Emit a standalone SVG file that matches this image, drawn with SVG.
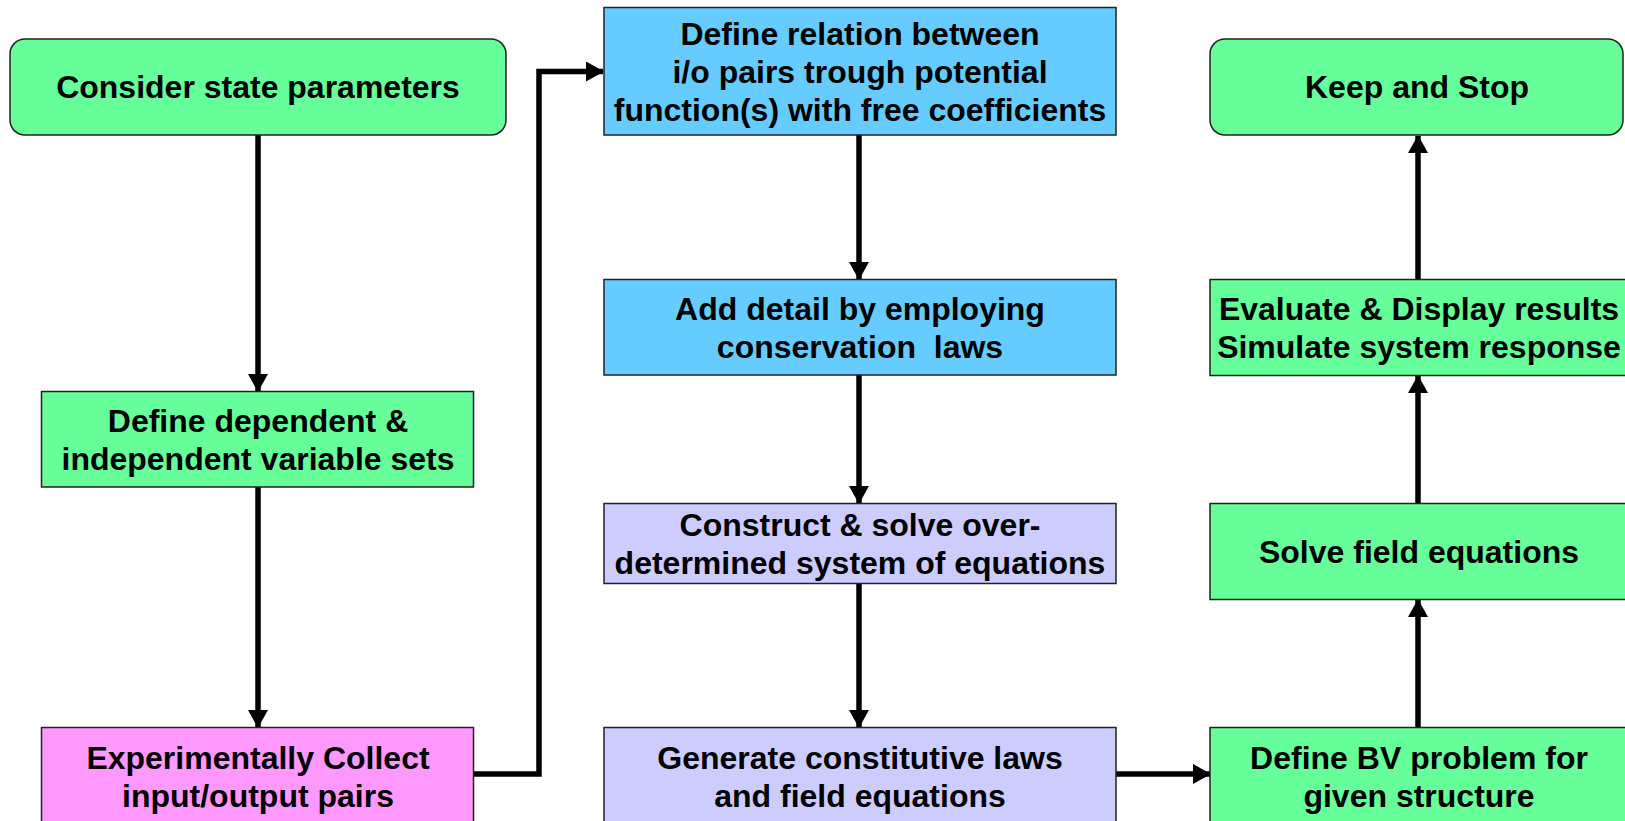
<svg xmlns="http://www.w3.org/2000/svg" width="1625" height="821" viewBox="0 0 1625 821">
  <style>
    .box { stroke: #222; stroke-width: 1.5; }
    .green { fill: #66FF99; }
    .blue { fill: #66CCFF; }
    .lav { fill: #CCCCFF; }
    .pink { fill: #FF99FF; }
    text { font-family: "Liberation Sans", Arial, sans-serif; font-weight: bold; font-size: 32px; fill: #000; text-anchor: middle; white-space: pre; }
    .wire { fill: none; stroke: #000; stroke-width: 5.5; }
  </style>
  <defs>
    <marker id="arrow" markerUnits="userSpaceOnUse" markerWidth="18" markerHeight="20" refX="17" refY="10" orient="auto">
      <path d="M0,0 L18,10 L0,20 z" fill="#000"/>
    </marker>
  </defs>

  <rect width="1625" height="821" fill="#fff"/>

  <!-- connectors -->
  <g id="connectors">
    <line class="wire" x1="258" y1="135" x2="258" y2="391" marker-end="url(#arrow)"/>
    <line class="wire" x1="258" y1="487" x2="258" y2="727" marker-end="url(#arrow)"/>
    <polyline class="wire" points="474,774 539,774 539,71.5 603,71.5" marker-end="url(#arrow)"/>
    <line class="wire" x1="859" y1="135" x2="859" y2="279" marker-end="url(#arrow)"/>
    <line class="wire" x1="859" y1="375" x2="859" y2="503" marker-end="url(#arrow)"/>
    <line class="wire" x1="859" y1="584" x2="859" y2="727" marker-end="url(#arrow)"/>
    <line class="wire" x1="1116" y1="774" x2="1210" y2="774" marker-end="url(#arrow)"/>
    <line class="wire" x1="1418" y1="727" x2="1418" y2="600" marker-end="url(#arrow)"/>
    <line class="wire" x1="1418" y1="503" x2="1418" y2="376" marker-end="url(#arrow)"/>
    <line class="wire" x1="1418" y1="279" x2="1418" y2="136" marker-end="url(#arrow)"/>
  </g>

  <!-- left column -->
  <g id="consider-state">
    <rect class="box green" x="10" y="39" width="496" height="96" rx="15"/>
    <text x="258" y="98">Consider state parameters</text>
  </g>
  <g id="define-variables">
    <rect class="box green" x="41.5" y="391.5" width="432" height="95.5"/>
    <text x="258" y="431.5">Define dependent &amp;</text>
    <text x="258" y="469.5">independent variable sets</text>
  </g>
  <g id="collect-pairs">
    <rect class="box pink" x="41.5" y="727.5" width="432" height="100"/>
    <text x="258" y="769">Experimentally Collect</text>
    <text x="258" y="807">input/output pairs</text>
  </g>

  <!-- middle column -->
  <g id="define-relation">
    <rect class="box blue" x="604" y="7.5" width="512" height="127.5"/>
    <text x="860" y="44.5">Define relation between</text>
    <text x="860" y="82.5">i/o pairs trough potential</text>
    <text x="860" y="120.5">function(s) with free coefficients</text>
  </g>
  <g id="add-detail">
    <rect class="box blue" x="604" y="279.5" width="512" height="95.5"/>
    <text x="860" y="319.5">Add detail by employing</text>
    <text x="860" y="357.5">conservation  laws</text>
  </g>
  <g id="construct-solve">
    <rect class="box lav" x="604" y="503.5" width="512" height="80"/>
    <text x="860" y="536">Construct &amp; solve over-</text>
    <text x="860" y="574">determined system of equations</text>
  </g>
  <g id="generate-laws">
    <rect class="box lav" x="604" y="727.5" width="512" height="100"/>
    <text x="860" y="769">Generate constitutive laws</text>
    <text x="860" y="807">and field equations</text>
  </g>

  <!-- right column -->
  <g id="keep-stop">
    <rect class="box green" x="1210" y="39" width="413" height="96" rx="15"/>
    <text x="1417" y="98">Keep and Stop</text>
  </g>
  <g id="evaluate-display">
    <rect class="box green" x="1210" y="279.5" width="420" height="96"/>
    <text x="1419" y="320">Evaluate &amp; Display results</text>
    <text x="1419" y="358">Simulate system response</text>
  </g>
  <g id="solve-field">
    <rect class="box green" x="1210" y="503.5" width="420" height="96"/>
    <text x="1419" y="563">Solve field equations</text>
  </g>
  <g id="define-bv">
    <rect class="box green" x="1210" y="727.5" width="420" height="100"/>
    <text x="1419" y="769">Define BV problem for</text>
    <text x="1419" y="807">given structure</text>
  </g>
</svg>
